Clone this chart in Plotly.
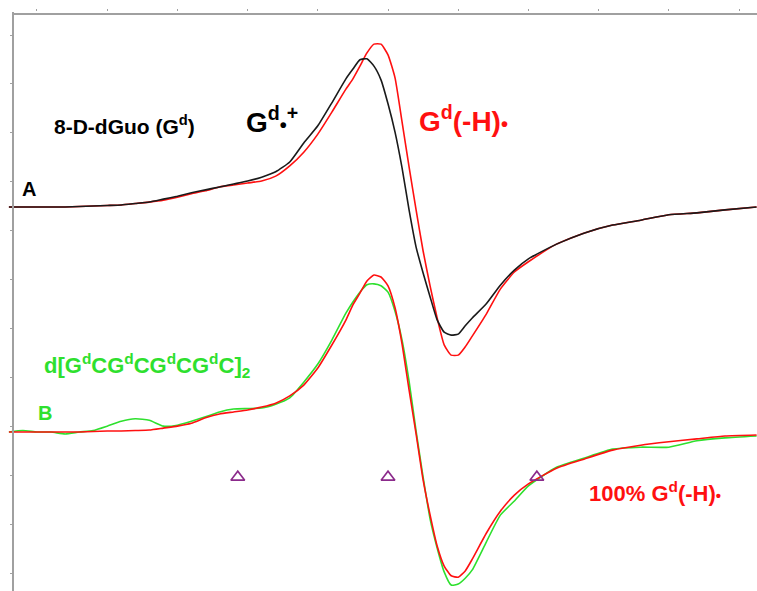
import plotly.graph_objects as go

# Magnetic field offset (G) shared by all spectra
FIELD = [-4, -2, 0, 2, 4, 6, 8, 10, 12, 14, 16, 18, 20, 22, 24, 26, 28, 30, 32, 34,
         36, 38, 40, 42, 44, 45, 46, 47, 48, 49, 50, 51, 52, 53, 54, 55, 56, 57, 58,
         59, 60, 61, 62, 64, 66, 68, 70, 74, 78, 82, 86, 90, 94, 98, 102.5]

# Spectrum A: 8-D-dGuo, cation radical (black) and neutral radical (red)
A_CATION = [0, 0, 0, 0, 0, 0.1, 0.2, 0.3, 0.4, 0.7, 1.0, 1.6, 2.2, 2.9, 3.5, 4.1, 4.7, 5.3, 6.1, 7.2,
            9.2, 13.1, 16.6, 21.3, 26.2, 28.2, 30.1, 30.3, 28.8, 26.0, 21.1, 15.3, 8.0, -0.6, -8.2,
            -13.5, -18.4, -23.1, -25.6, -26.2, -26.0, -24.3, -22.7, -19.8, -16.0, -12.9, -10.6,
            -7.6, -5.3, -3.7, -2.7, -1.6, -1.2, -0.6, 0]
A_NEUTRAL = [0, 0, 0, 0, 0, 0.1, 0.2, 0.3, 0.4, 0.7, 1.0, 1.4, 2.0, 2.7, 3.3, 4.1, 4.5, 4.9, 5.3, 6.3,
             8.4, 11.2, 14.9, 19.4, 24.1, 26.2, 28.8, 31.5, 33.3, 33.3, 31.1, 26.4, 17.4, 8.2, -0.6,
             -9.0, -16.2, -22.7, -28.2, -30.3, -30.3, -28.6, -26.4, -21.9, -16.8, -13.3, -11.2,
             -7.6, -5.3, -3.7, -2.7, -1.6, -1.2, -0.6, 0]

# Spectrum B: oligonucleotide (green) and 100% neutral radical (red)
B_OLIGO = [0, 0.3, 0, 0, -0.4, 0, 0.3, 1.2, 2.2, 2.7, 2.4, 1.2, 1.4, 2.2, 3.1, 4.1, 4.7, 4.8, 4.9, 5.7,
           7.0, 10.2, 13.9, 18.8, 24.3, 26.6, 28.6, 30.1, 30.3, 29.9, 28.6, 24.7, 18.8, 10.4, 0.2,
           -9.2, -17.8, -23.7, -28.6, -31.3, -31.1, -29.9, -28.2, -22.5, -17.0, -14.1, -11.0,
           -7.2, -5.3, -3.5, -3.1, -3.1, -1.8, -1.2, -0.8]
B_NEUTRAL = [0, 0, 0, 0, 0, 0, 0.1, 0.2, 0.2, 0.3, 0.4, 0.8, 1.2, 1.8, 2.9, 3.7, 4.1, 4.5, 5.1, 5.9,
             7.4, 9.6, 13.1, 17.8, 22.9, 26.0, 28.4, 30.9, 32.1, 31.7, 29.9, 25.4, 18.0, 8.6, -0.4,
             -9.8, -17.0, -23.3, -27.4, -29.4, -29.7, -28.4, -26.0, -20.7, -16.2, -12.9, -10.6,
             -7.4, -5.5, -3.7, -2.7, -2.0, -1.4, -0.8, -0.6]

OFFSET_A = 74.85
OFFSET_B = 28.83

# Field markers (triangles)
MARK_FIELD = [28.6, 50.0, 71.2]
MARK_LEVEL = [19.6, 19.6, 19.6]

RED = "#ff1010"
BLACK = "#1a1a1a"
GREEN = "#2ee02e"
PURPLE = "#8b2a8b"
FRAME = "#a0a0a0"
FONT = "Liberation Sans, Arial, sans-serif"

fig = go.Figure()
LINE = dict(width=1.6, shape="spline", smoothing=0.5)
fig.add_trace(go.Scatter(x=FIELD, y=[OFFSET_A + v for v in A_NEUTRAL], mode="lines",
                         line=dict(color=RED, **LINE)))
fig.add_trace(go.Scatter(x=FIELD, y=[OFFSET_A + v for v in A_CATION], mode="lines",
                         line=dict(color=BLACK, **LINE)))
fig.add_trace(go.Scatter(x=FIELD, y=[OFFSET_B + v for v in B_OLIGO], mode="lines",
                         line=dict(color=GREEN, **LINE)))
fig.add_trace(go.Scatter(x=FIELD, y=[OFFSET_B + v for v in B_NEUTRAL], mode="lines",
                         line=dict(color=RED, **LINE)))
fig.add_trace(go.Scatter(x=MARK_FIELD, y=MARK_LEVEL, mode="markers",
                         marker=dict(symbol="triangle-up-open", size=12, color=PURPLE,
                                     line=dict(width=1.6, color=PURPLE))))

def label(text, x, y, size, color):
    fig.add_annotation(x=x, y=y, text=f"<b>{text}</b>", showarrow=False,
                       xanchor="center", yanchor="middle",
                       font=dict(family=FONT, size=size, color=color))

def dot(px):
    return f"<span style='font-size:{px}px'>•</span>"

label("A", -1.14, 78.5, 20, "black")
label("8-D-dGuo (G<sup>d</sup>)", 12.5, 91.6, 21, "black")
label("G<sup>d</sup>" + dot(20) + "<sup>+</sup>", 33.5, 92.6, 28, "black")
label("G<sup>d</sup>(-H)" + dot(20), 60.7, 92.8, 28, RED)
label("d[G<sup>d</sup>CG<sup>d</sup>CG<sup>d</sup>CG<sup>d</sup>C]<sub>2</sub>", 15.7, 42.5, 22, GREEN)
label("B", 1.14, 32.7, 20, GREEN)
label("100% G<sup>d</sup>(-H)" + dot(15), 88.0, 16.6, 22, RED)

# top frame line (just inside the top edge of the plot area)
fig.add_shape(type="line", xref="paper", yref="y", x0=5 / 749, x1=1, y0=114.3, y1=114.3,
              line=dict(color=FRAME, width=2))

fig.update_layout(
    width=757, height=591,
    margin=dict(l=8, r=0, t=12, b=0),
    paper_bgcolor="white", plot_bgcolor="white",
    showlegend=False,
    xaxis=dict(range=[-4.13, 102.56], side="top", showgrid=False, zeroline=False,
               showline=False, ticks="outside", ticklen=2, tickcolor=FRAME,
               tick0=0, dtick=10, showticklabels=False),
    yaxis=dict(range=[-3.68, 114.72], anchor="free", position=5 / 749,
               showgrid=False, zeroline=False, showline=True, linecolor=FRAME, linewidth=2,
               ticks="outside", ticklen=2, tickcolor=FRAME, tick0=0, dtick=10,
               showticklabels=False),
)

fig.write_html("out.html", config={"displayModeBar": False},
               post_script="document.body.style.margin='0';document.body.style.overflow='hidden';")
